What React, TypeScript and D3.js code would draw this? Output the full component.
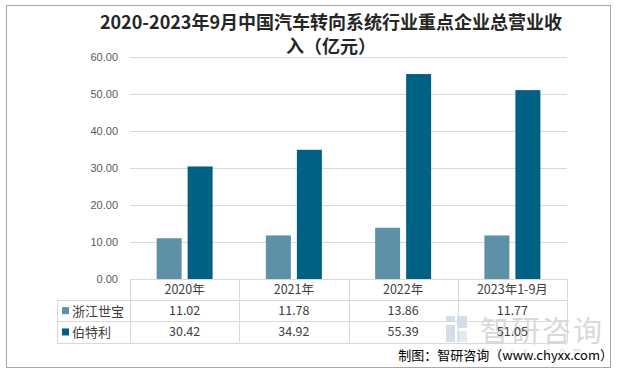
import React from "react";
import * as d3 from "d3";

const categories = ["2020年", "2021年", "2022年", "2023年1-9月"];
const seriesNames = ["浙江世宝", "伯特利"];
const zhejiangShibao = [11.02, 11.78, 13.86, 11.77];
const bethel = [30.42, 34.92, 55.39, 51.05];
const yTicks = [0, 10, 20, 30, 40, 50, 60];
const colors = ["#5E91A8", "#006185"];

const W = 619;
const H = 377;
const plotL = 130;
const plotR = 567;
const plotT = 57;
const plotB = 279;
const tableL = 57;
const rowH = 21.3;
const headerH = 21;

export default function App() {
  const series = [zhejiangShibao, bethel];
  const x = d3.scaleBand<string>().domain(categories).range([plotL, plotR]).paddingInner(0).paddingOuter(0);
  const y = d3.scaleLinear().domain([0, 60]).range([plotB, plotT]);
  const groupW = 56;
  const xs = d3.scaleBand<string>().domain(seriesNames).range([0, groupW]).paddingInner(0.194).paddingOuter(0);
  const cjk = "'Microsoft YaHei', 'Noto Sans CJK SC', 'Noto Sans', sans-serif";
  const rowTop = (i: number) => plotB + headerH + i * rowH;
  const tableBottom = rowTop(2);

  return (
    <svg width={W} height={H} style={{ position: "absolute", left: 0, top: 0, background: "#fff" }} xmlns="http://www.w3.org/2000/svg">
      <rect x={0} y={0} width={W} height={H} fill="#fff" />
      <rect x={6.5} y={5.5} width={604} height={362} fill="#fff" stroke="#a6a6a6" strokeWidth={1} />
      {/* title */}
      <text x={331} y={29} textAnchor="middle" fontFamily={cjk} fontWeight="bold" fontSize={18} fill="#262626">
        2020-2023年9月中国汽车转向系统行业重点企业总营业收
      </text>
      <text x={331} y={53} textAnchor="middle" fontFamily={cjk} fontWeight="bold" fontSize={18} fill="#262626">
        入（亿元）
      </text>
      {/* gridlines and y labels */}
      {yTicks.map((t) => (
        <g key={t}>
          {t > 0 && <line x1={plotL} x2={plotR} y1={Math.round(y(t)) + 0.5} y2={Math.round(y(t)) + 0.5} stroke="#d9d9d9" />}
          <text x={118} y={y(t) + 4} textAnchor="end" fontFamily="'Liberation Sans', Arial, sans-serif" fontSize={11} fill="#595959">
            {t.toFixed(2)}
          </text>
        </g>
      ))}
      {/* bars */}
      {categories.map((c, ci) => {
        const cx = (x(c) as number) + x.bandwidth() / 2;
        return seriesNames.map((s, si) => {
          const v = series[si][ci];
          return (
            <rect
              key={c + s}
              x={cx - groupW / 2 + (xs(s) as number)}
              y={y(v)}
              width={xs.bandwidth()}
              height={plotB - y(v)}
              fill={colors[si]}
            />
          );
        });
      })}
      {/* watermark */}
      <g opacity={0.5}>
        <rect x={446} y={316} width={9} height={6} fill="#a9bfd6" />
        <rect x={457} y={316} width={10} height={12} fill="#a9bfd6" />
        <rect x={446} y={325} width={9} height={17} fill="#a9bfd6" />
        <rect x={457} y={331} width={10} height={11} fill="#c9d7e6" />
        <text x={480} y={342} fontFamily={cjk} fontSize={29} fill="#b5b5b5" letterSpacing={2}>
          智研咨询
        </text>
        <text x={470} y={355} fontFamily="'Liberation Sans', Arial, sans-serif" fontSize={10} fill="#c0c0c0" letterSpacing={8}>
          chyxx.com
        </text>
      </g>
      {/* table */}
      <g stroke="#d9d9d9" strokeWidth={1} fill="none">
        <line x1={plotL} x2={plotR} y1={plotB + 0.5} y2={plotB + 0.5} />
        {[0, 1, 2].map((i) => (
          <line key={i} x1={tableL} x2={plotR} y1={Math.round(rowTop(i)) + 0.5} y2={Math.round(rowTop(i)) + 0.5} />
        ))}
        <line x1={tableL + 0.5} x2={tableL + 0.5} y1={rowTop(0)} y2={tableBottom} />
        {categories.map((c) => (
          <line key={c} x1={Math.round(x(c) as number) + 0.5} x2={Math.round(x(c) as number) + 0.5} y1={plotB} y2={tableBottom} />
        ))}
        <line x1={plotR + 0.5} x2={plotR + 0.5} y1={plotB} y2={tableBottom} />
      </g>
      {categories.map((c) => (
        <text key={c} x={(x(c) as number) + x.bandwidth() / 2} y={plotB + 15} textAnchor="middle" fontFamily={cjk} fontSize={12.5} fill="#404040">
          {c}
        </text>
      ))}
      {seriesNames.map((s, si) => (
        <g key={s}>
          <rect x={62} y={rowTop(si) + rowH / 2 - 3.5} width={7} height={7} fill={colors[si]} />
          <text x={72} y={rowTop(si) + rowH / 2 + 5} fontFamily={cjk} fontSize={13} fill="#404040">
            {s}
          </text>
          {categories.map((c, ci) => (
            <text key={c} x={(x(c) as number) + x.bandwidth() / 2} y={rowTop(si) + rowH / 2 + 4.5} textAnchor="middle" fontFamily={cjk} fontSize={12.5} fill="#404040">
              {series[si][ci].toFixed(2)}
            </text>
          ))}
        </g>
      ))}
      {/* source */}
      <text x={613} y={360} textAnchor="end" fontFamily={cjk} fontSize={13} fill="#000">
        制图：智研咨询（www.chyxx.com）
      </text>
    </svg>
  );
}
